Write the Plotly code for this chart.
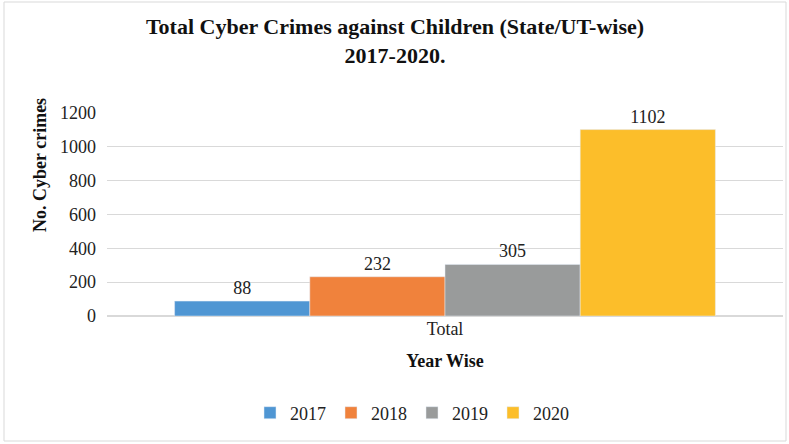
import plotly.graph_objects as go

categories = ["Total"]
years = ["2017", "2018", "2019", "2020"]
values = [88, 232, 305, 1102]
colors = ["#4F96D3", "#F0823C", "#999B9B", "#FCBE2A"]

W, H = 789, 444
ml, mr, mt, mb = 107, 6, 113, 128
pw = W - ml - mr
ph = H - mt - mb

def px_x(p):
    return (p - ml) / pw

def px_y(p):
    return (H - mb - p) / ph

font = "'Times New Roman', 'Liberation Serif', 'DejaVu Serif', serif"

fig = go.Figure()
for y, v, c in zip(years, values, colors):
    fig.add_trace(go.Bar(
        x=categories, y=[v], name=y, marker_color=c,
        text=[str(v)], textposition="outside", cliponaxis=False,
        textfont=dict(family=font, size=18, color="#222"),
    ))

fig.update_layout(
    width=W, height=H,
    margin=dict(l=ml, r=mr, t=mt, b=mb),
    paper_bgcolor="white", plot_bgcolor="white",
    barmode="group", bargap=0.2, bargroupgap=0,
    font=dict(family=font, size=17, color="#222"),
    title=dict(
        text="<b>Total Cyber Crimes against Children (State/UT-wise)<br>2017-2020.</b>",
        x=395 / W, xref="container", xanchor="center",
        y=1 - 34 / H, yanchor="middle",
        font=dict(family=font, size=22, color="#111"),
    ),
    showlegend=True,
    legend=dict(
        orientation="h", x=px_x(412), xanchor="center",
        y=px_y(413), yanchor="middle",
        font=dict(family=font, size=18, color="#222"),
        traceorder="normal",
    ),
)

fig.update_yaxes(
    range=[0, 1200], dtick=200, showgrid=True, gridcolor="#D9D9D9",
    gridwidth=1, zeroline=True, zerolinecolor="#D9D9D9",
    tickfont=dict(family=font, size=18, color="#222"), ticks="",
    ticklabelstandoff=10, showline=False,
)
fig.update_xaxes(
    showline=False, ticks="",
    tickfont=dict(family=font, size=18, color="#222"),
    title=dict(text="<b>Year Wise</b>", font=dict(family=font, size=18, color="#111"), standoff=16),
)

fig.add_annotation(
    text="<b>No. Cyber crimes</b>", textangle=-90,
    xref="paper", yref="paper", x=px_x(40), y=px_y(165),
    xanchor="center", yanchor="middle", showarrow=False,
    font=dict(family=font, size=18, color="#111"),
)

fig.add_shape(
    type="rect", xref="paper", yref="paper",
    x0=px_x(4), x1=px_x(786), y0=px_y(441), y1=px_y(2),
    line=dict(color="#D9D9D9", width=1), layer="below",
)

fig.write_html("out.html")
